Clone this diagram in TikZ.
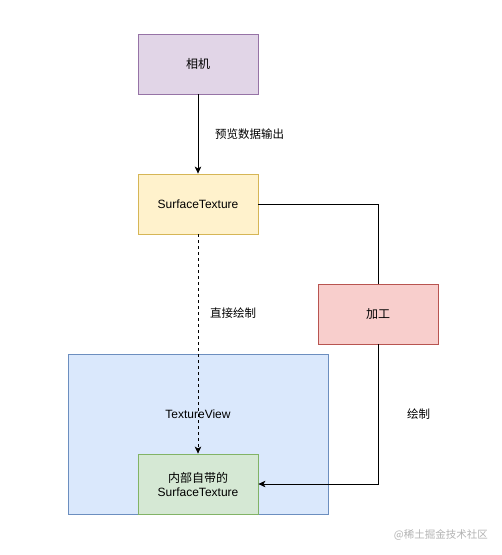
\documentclass[tikz,border=0pt]{standalone}
\usepackage{fontspec}
\setmainfont{Liberation Sans}
\newfontfamily\cjk{Noto Sans CJK SC}
\usetikzlibrary{shapes,arrows.meta}

\begin{document}
\begin{tikzpicture}[x=1pt,y=-1pt,
  box/.style={draw,line width=0.8pt,minimum width=120pt,minimum height=60pt,inner sep=0pt,font=\fontsize{12}{14}\selectfont,align=center},
  lbl/.style={font=\cjk\fontsize{11.5}{14}\selectfont,inner sep=0pt},
  conn/.style={line width=0.8pt},
  tip/.style={-{Stealth[length=7pt,width=6.5pt,inset=1.8pt]}}]
\useasboundingbox (0,0) rectangle (502,555);
\definecolor{purplefill}{HTML}{E1D5E7}\definecolor{purpleline}{HTML}{9673A6}
\definecolor{yellowfill}{HTML}{FFF2CC}\definecolor{yellowline}{HTML}{D6B656}
\definecolor{redfill}{HTML}{F8CECC}\definecolor{redline}{HTML}{B85450}
\definecolor{bluefill}{HTML}{DAE8FC}\definecolor{blueline}{HTML}{6C8EBF}
\definecolor{greenfill}{HTML}{D5E8D4}\definecolor{greenline}{HTML}{82B366}
\node[box,fill=bluefill,draw=blueline,minimum width=260pt,minimum height=160pt] (view) at (198,434) {};
\node[font=\fontsize{12}{14}\selectfont,inner sep=0pt] (viewtext) at (198,414) {TextureView};
\node[box,fill=purplefill,draw=purpleline] (camera) at (198,64) {\cjk 相机};
\node[box,fill=yellowfill,draw=yellowline] (st) at (198,204) {SurfaceTexture};
\node[box,fill=redfill,draw=redline] (proc) at (378,314) {\cjk 加工};
\node[box,fill=greenfill,draw=greenline] (inner) at (198,484) {{\cjk 内部自带的}\\SurfaceTexture};
\draw[conn,tip] (camera) -- (st);
\draw[conn,dashed,tip] (st) -- (inner);
\draw[conn] (st.east) -| (proc.north);
\draw[conn,tip] (proc.south) |- (inner.east);
\node[lbl,anchor=west] (preview) at (215,134) {预览数据输出};
\node[lbl,anchor=west] (direct) at (210,313) {直接绘制};
\node[lbl,anchor=west] (drawlbl) at (407,414) {绘制};
\node[lbl,anchor=east,text=black!30,font=\cjk\fontsize{10.5}{12}\selectfont] (mark) at (488,535) {@稀土掘金技术社区};
\end{tikzpicture}
\end{document}
